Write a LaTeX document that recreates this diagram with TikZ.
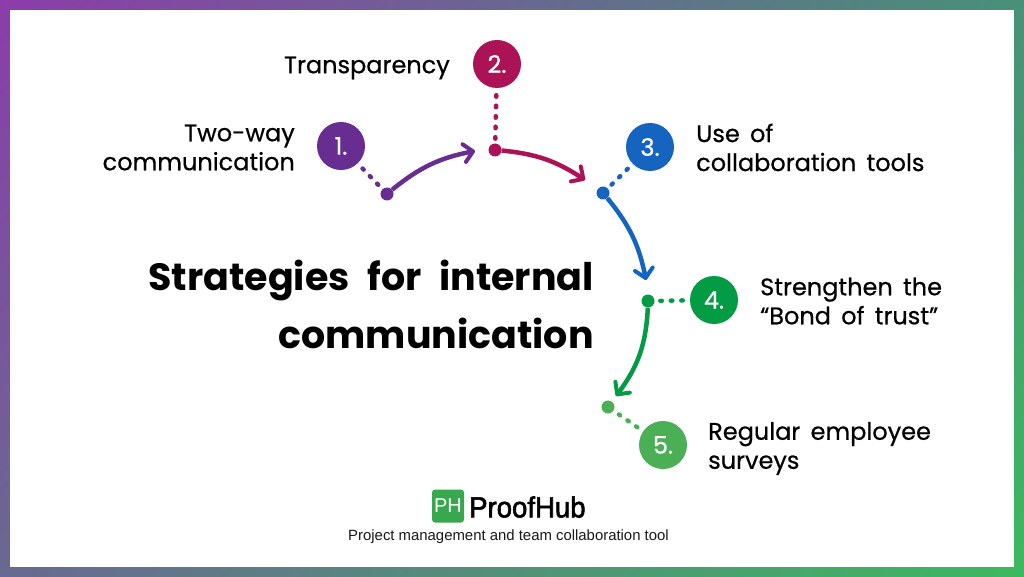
\documentclass[tikz,border=0pt]{standalone}
\usepackage{fontspec}
\setmainfont{Poppins}
\newfontfamily\labfont[FakeBold=0.55,WordSpace=1.6]{Poppins}
\newfontfamily\numfont[FakeBold=0.6]{Poppins}
\newfontfamily\titlefont[WordSpace=2.2]{Poppins}
\newfontfamily\liber{Liberation Sans}
\newfontfamily\brandfont[FakeBold=2,FakeStretch=0.95]{Liberation Sans}
\usetikzlibrary{arrows.meta,shadings}
\definecolor{cA}{HTML}{672D91}
\definecolor{cB}{HTML}{AB1356}
\definecolor{cC}{HTML}{1565C0}
\definecolor{cD}{HTML}{049B45}
\definecolor{cE}{HTML}{4BB055}
\definecolor{cL}{HTML}{37A84E}
\definecolor{bUL}{RGB}{140,60,170}
\definecolor{bUR}{RGB}{72,145,120}
\definecolor{bLL}{RGB}{105,105,145}
\definecolor{bLR}{RGB}{60,185,95}
\tikzset{
  num/.style={circle,fill=#1,minimum size=48pt,inner sep=0pt,text=white,font=\numfont\fontsize{24}{26}\selectfont},
  hub/.style={circle,fill=#1,minimum size=13pt,inner sep=0pt},
  lab/.style={font=\labfont\fontsize{24}{29}\selectfont,align=left,inner sep=0pt,text=black},
  dots/.style={draw=#1,line width=4.5pt,line cap=round,shorten <=7pt,shorten >=2pt,dash pattern=on 1.5pt off 9pt},
  curve/.style={draw=#1,line width=4.5pt,-{Straight Barb[length=9pt,width=18pt,line width=4pt,round]}},
}
\begin{document}
\begin{tikzpicture}[x=1pt,y=-1pt]
\useasboundingbox (0,0) rectangle (1024,577);
\shade[upper left=bUL,upper right=bUR,lower left=bLL,lower right=bLR] (0,0) rectangle (1024,577);
\fill[white] (10,10) rectangle (1014,567);

\node[num=cA] (n1) at (341,146) {1.};
\node[num=cB] (n2) at (497,64) {2.};
\node[num=cC] (n3) at (650,147) {3.};
\node[num=cD] (n4) at (714,300) {4.};
\node[num=cE] (n5) at (663,445) {5.};

\node[hub=cA] (h1) at (387,194) {};
\node[hub=cB] (h2) at (495,150) {};
\node[hub=cC] (h3) at (603,193) {};
\node[hub=cD] (h4) at (648,301) {};
\node[hub=cE] (h5) at (608,407) {};

\draw[dots=cA] (n1) -- (h1);
\draw[dots=cB] (n2) -- (h2);
\draw[dots=cC] (n3) -- (h3);
\draw[dots=cD] (n4) -- (h4);
\draw[dots=cE] (n5) -- (h5);

\coordinate (t1) at (475,151);
\draw[curve=cA] (h1) to[bend left=14] (t1);
\coordinate (t2) at (585,180);
\draw[curve=cB] (h2) to[bend left=14] (t2);
\coordinate (t3) at (646,280);
\draw[curve=cC] (h3) to[bend left=14] (t3);
\coordinate (t4) at (616,396);
\draw[curve=cD] (h4) to[bend left=17] (t4);

\node[lab,anchor=east,align=right] (l1) at (295,147.5) {Two-way\\communication};
\node[lab,anchor=east] (l2) at (450,68) {Transparency};
\node[lab,anchor=west] (l3) at (696,147.5) {Use of\\collaboration tools};
\node[lab,anchor=west] (l4) at (760,301) {Strengthen the\\“Bond of trust”};
\node[lab,anchor=west] (l5) at (708,448.5) {Regular employee\\surveys};
\node[anchor=east,align=right,inner sep=0pt,font=\titlefont\bfseries\fontsize{38}{58}\selectfont] (title) at (594,304) {Strategies for internal\\communication};

\node[fill=cL,rounded corners=3pt,minimum width=32pt,minimum height=33pt,inner sep=0pt,text=white,font=\liber\fontsize{20}{20}\selectfont] (logo) at (448,506) {PH};
\node[anchor=west,inner sep=0pt,font=\brandfont\fontsize{29}{29}\selectfont] (brand) at (469,507) {ProofHub};
\node[inner sep=0pt,font=\liber\fontsize{14.9}{16}\selectfont,text=black!90] (tag) at (508.5,536.5) {Project management and team collaboration tool};
\end{tikzpicture}
\end{document}
